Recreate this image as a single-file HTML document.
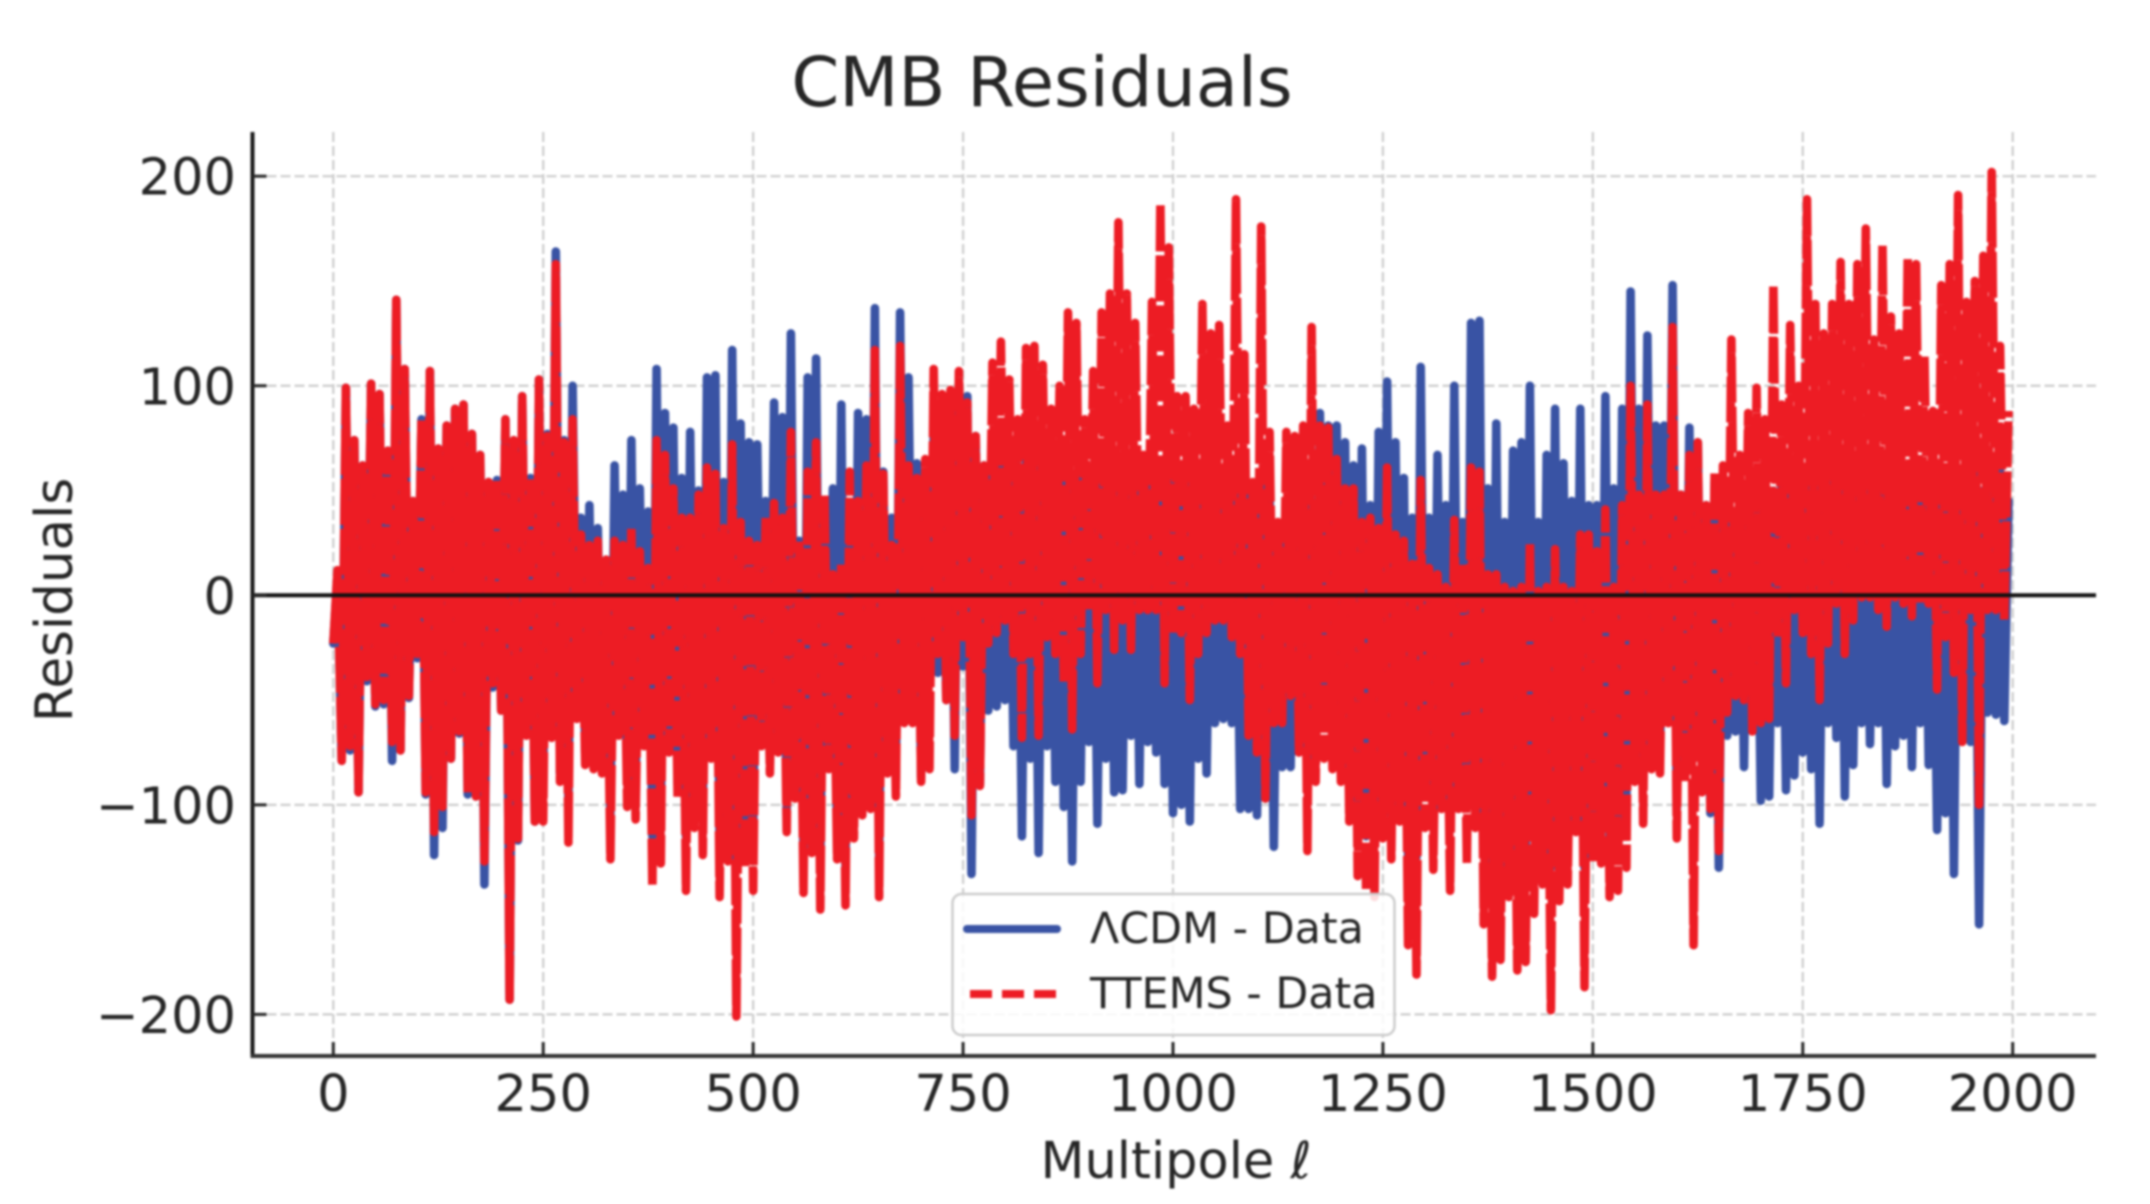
<!DOCTYPE html>
<html lang="en">
<head>
<meta charset="utf-8">
<title>CMB Residuals</title>
<style>
  html, body { margin: 0; padding: 0; background: #fff; width: 2150px; height: 1204px; overflow: hidden; }
  svg { display: block; filter: blur(1px); font-family: "DejaVu Sans", "Liberation Sans", sans-serif; fill: #262626; }
  text { fill: #262626; }
</style>
</head>
<body>
<svg id="chart" xmlns="http://www.w3.org/2000/svg" width="2150" height="1204" viewBox="0 0 2150 1204">
  <rect x="0" y="0" width="2150" height="1204" fill="#ffffff"/>
  <g id="grid"></g>
  <g id="series"></g>
  <g id="axes"></g>
  <text x="1042" y="106" font-size="68.6" text-anchor="middle">CMB Residuals</text>
  <text x="1176" y="1178" font-size="51" text-anchor="middle">Multipole <tspan font-style="italic">ℓ</tspan></text>
  <text transform="translate(72 600) rotate(-90)" font-size="51.5" text-anchor="middle">Residuals</text>
  <g>
    <rect x="952.5" y="894" width="442" height="141" rx="9" ry="9" fill="#ffffff" fill-opacity="0.85" stroke="#cccccc" stroke-width="2.5"/>
    <line x1="967" y1="929" x2="1057" y2="929" stroke="#3953A4" stroke-width="8" stroke-linecap="round"/>
    <line x1="970" y1="994" x2="1056" y2="994" stroke="#ED1C24" stroke-width="8" stroke-dasharray="22 10"/>
    <text x="1090" y="943" font-size="42.8">ΛCDM - Data</text>
    <text x="1090" y="1008" font-size="42.8">TTEMS - Data</text>
  </g>
</svg>
<script>
const multipoleStep = 10;
const lcdmUpper = [10,99,74,62,101,96,69,141,108,45,84,107,70,81,89,91,77,67,54,55,84,74,95,56,103,77,164,74,100,37,43,32,17,62,48,74,51,40,108,87,80,56,78,50,104,105,54,117,82,73,72,
45,92,85,125,26,104,113,44,51,91,43,87,84,137,59,37,135,104,63,59,76,65,81,95,95,76,62,76,67,66,62,70,66,62,70,62,60,58,56,60,62,64,64,66,62,60,58,62,60,55,55,
48,50,55,50,60,55,60,40,55,50,30,45,50,43,43,87,81,81,73,62,70,43,78,102,73,56,37,109,37,67,43,100,35,130,131,51,82,35,69,73,100,35,67,89,63,45,89,43,43,95,51,89,
145,89,124,81,81,148,48,80,73,43,54,43,37,50,50,50,50,50,60,60,60,60,60,60,63,60,60,60,63,60,63,60,60,60,50,60,40,60,60,60,60,60,50,60,60,45];
const lcdmLower = [-23,-79,-74,-94,-41,-53,-52,-79,-74,-49,-30,-95,-124,-111,-78,-66,-95,-96,-138,-44,-55,-193,-117,-61,-108,-90,-60,-85,-100,-50,-75,-75,-80,-105,-62,-90,-95,-70,-115,-110,-72,-90,-115,-95,-105,-75,-120,-110,-130,-110,-115,
-65,-80,-70,-105,-90,-125,-110,-130,-78,-115,-130,-105,-95,-95,-125,-80,-88,-55,-55,-87,-39,-37,-50,-83,-34,-133,-90,-55,-53,-50,-72,-115,-78,-123,-72,-89,-101,-127,-89,-70,-109,-78,-94,-93,-67,-90,-70,-75,-90,-104,-100,
-108,-78,-85,-61,-59,-61,-102,-102,-105,-97,-120,-82,-82,-75,-82,-78,-61,-70,-75,-90,-110,-115,-115,-95,-105,-90,-125,-125,-95,-105,-85,-110,-85,-100,-90,-120,-130,-130,-110,-130,-130,-115,-110,-130,-115,-110,-95,-130,-105,-105,-115,-115,
-100,-80,-90,-75,-78,-55,-102,-75,-78,-89,-104,-130,-67,-65,-82,-61,-98,-96,-61,-93,-86,-75,-83,-109,-61,-68,-96,-81,-61,-71,-61,-90,-72,-67,-82,-61,-81,-112,-104,-133,-61,-70,-157,-56,-57,-60];
const ttemsUpper = [12,99,74,62,101,96,69,141,108,45,84,107,70,81,89,91,77,67,54,55,84,74,95,56,103,76,158,73,84,29,24,26,17,26,24,32,21,13,74,67,51,37,37,48,61,58,32,72,35,26,24,
37,44,37,78,26,59,73,48,10,15,59,45,62,117,58,24,119,62,56,65,108,96,98,107,92,76,62,111,121,103,84,118,119,110,89,100,135,130,84,107,135,144,178,144,130,67,140,187,166,95,95,
89,139,125,129,81,189,115,54,176,78,35,78,76,81,128,81,80,65,51,51,35,37,32,61,29,26,15,55,13,10,4,36,15,61,59,10,10,4,2,4,25,2,4,22,4,2,29,29,21,41,4,43,
100,48,91,48,48,128,48,67,73,43,59,62,122,67,87,99,84,148,91,129,100,189,139,125,139,159,139,158,175,122,167,133,125,161,158,114,88,148,158,191,140,150,162,202,119,88];
const ttemsLower = [-23,-79,-72,-94,-39,-52,-50,-70,-74,-48,-28,-94,-113,-101,-78,-65,-94,-96,-127,-42,-55,-193,-116,-67,-108,-108,-68,-89,-118,-59,-81,-83,-85,-126,-67,-101,-107,-72,-139,-128,-75,-97,-141,-111,-124,-78,-144,-127,-201,-130,-141,
-72,-85,-75,-113,-97,-142,-123,-150,-83,-126,-148,-116,-105,-102,-144,-85,-96,-61,-61,-89,-83,-28,-50,-67,-20,-105,-91,-23,-18,-12,-28,-68,-28,-67,-20,-28,-42,-64,-28,-7,-42,-7,-26,-12,-26,-7,-7,-7,-42,-18,-18,
-50,-28,-18,-12,-12,-20,-28,-67,-75,-97,-61,-61,-48,-75,-122,-89,-78,-83,-89,-108,-134,-141,-144,-116,-126,-108,-167,-181,-111,-131,-102,-141,-102,-128,-111,-157,-182,-174,-144,-179,-175,-152,-138,-198,-146,-138,-113,-187,-127,-128,-144,-141,
-130,-89,-109,-83,-85,-61,-116,-89,-167,-94,-102,-122,-56,-48,-50,-65,-61,-59,-20,-42,-7,-18,-28,-50,-23,-4,-28,-12,-1,-1,-7,-15,-1,-4,-10,-4,-4,-45,-20,-37,-70,-7,-100,-7,-7,-12];
const xTickValues = [0, 250, 500, 750, 1000, 1250, 1500, 1750, 2000];
const yTickValues = [200, 100, 0, -100, -200];
const xTickLabels = ["0", "250", "500", "750", "1000", "1250", "1500", "1750", "2000"];
const yTickLabels = ["200", "100", "0", "\u2212100", "\u2212200"];

const NS = "http://www.w3.org/2000/svg";
const plotLeft = 252.5, plotRight = 2096, plotTop = 132, plotBottom = 1056;
function xScale(ell) { return 333.3 + 0.8397 * ell; }
function yScale(v) { return 595.3 - 2.0955 * v; }

function make(parent, tag, attrs, text) {
  const el = document.createElementNS(NS, tag);
  for (const k in attrs) el.setAttribute(k, attrs[k]);
  if (text !== undefined) el.textContent = text;
  parent.appendChild(el);
  return el;
}
function seriesPath(upper, lower) {
  let d = "";
  const n = Math.min(upper.length, lower.length);
  for (let i = 0; i < n; i++) {
    const ell = i * multipoleStep;
    d += (i === 0 ? "M" : "L") + xScale(ell).toFixed(1) + " " + yScale(lower[i]).toFixed(1);
    d += "L" + xScale(ell + multipoleStep / 2).toFixed(1) + " " + yScale(upper[i]).toFixed(1);
  }
  return d;
}

const gridG = document.getElementById("grid");
const seriesG = document.getElementById("series");
const axesG = document.getElementById("axes");
const gridStyle = { stroke: "#cccccc", "stroke-width": 2.2, "stroke-dasharray": "10 4" };

xTickValues.forEach(function (v) {
  const l = make(gridG, "line", Object.assign({ x1: xScale(v), x2: xScale(v), y1: plotTop, y2: plotBottom }, gridStyle));
  
  
});
yTickValues.forEach(function (v) {
  const l = make(gridG, "line", Object.assign({ x1: plotLeft, x2: plotRight, y1: yScale(v), y2: yScale(v) }, gridStyle));
  
  
});

const lcdmLine = make(seriesG, "path", { d: seriesPath(lcdmUpper, lcdmLower), fill: "none", stroke: "#3953A4", "stroke-width": 8.6, "stroke-linejoin": "round", "stroke-linecap": "round" });


const ttemsLine = make(seriesG, "path", { d: seriesPath(ttemsUpper, ttemsLower), fill: "none", stroke: "#ED1C24", "stroke-width": 8.6, "stroke-linejoin": "round", "stroke-dasharray": "46 4" });



const zeroLine = make(seriesG, "line", { x1: plotLeft, x2: plotRight, y1: yScale(0), y2: yScale(0), stroke: "#111111", "stroke-width": 4 });



const leftSpine = make(axesG, "line", { x1: plotLeft, x2: plotLeft, y1: plotTop, y2: plotBottom + 2, stroke: "#1a1a1a", "stroke-width": 4 });


const bottomSpine = make(axesG, "line", { x1: plotLeft - 2, x2: plotRight, y1: plotBottom, y2: plotBottom, stroke: "#333333", "stroke-width": 4 });



xTickValues.forEach(function (v, i) {
  const t = make(axesG, "line", { x1: xScale(v), x2: xScale(v), y1: plotBottom, y2: plotBottom - 14, stroke: "#262626", "stroke-width": 3 });
  
  
  const lab = make(axesG, "text", { x: xScale(v), y: 1111, "font-size": 51, "text-anchor": "middle" }, xTickLabels[i]);
  
  
});
yTickValues.forEach(function (v, i) {
  const t = make(axesG, "line", { x1: plotLeft, x2: plotLeft + 14, y1: yScale(v), y2: yScale(v), stroke: "#262626", "stroke-width": 3 });
  
  
  const lab = make(axesG, "text", { x: 236, y: yScale(v) + 18.5, "font-size": 51, "text-anchor": "end" }, yTickLabels[i]);
  
  
});
</script>
</body>
</html>
